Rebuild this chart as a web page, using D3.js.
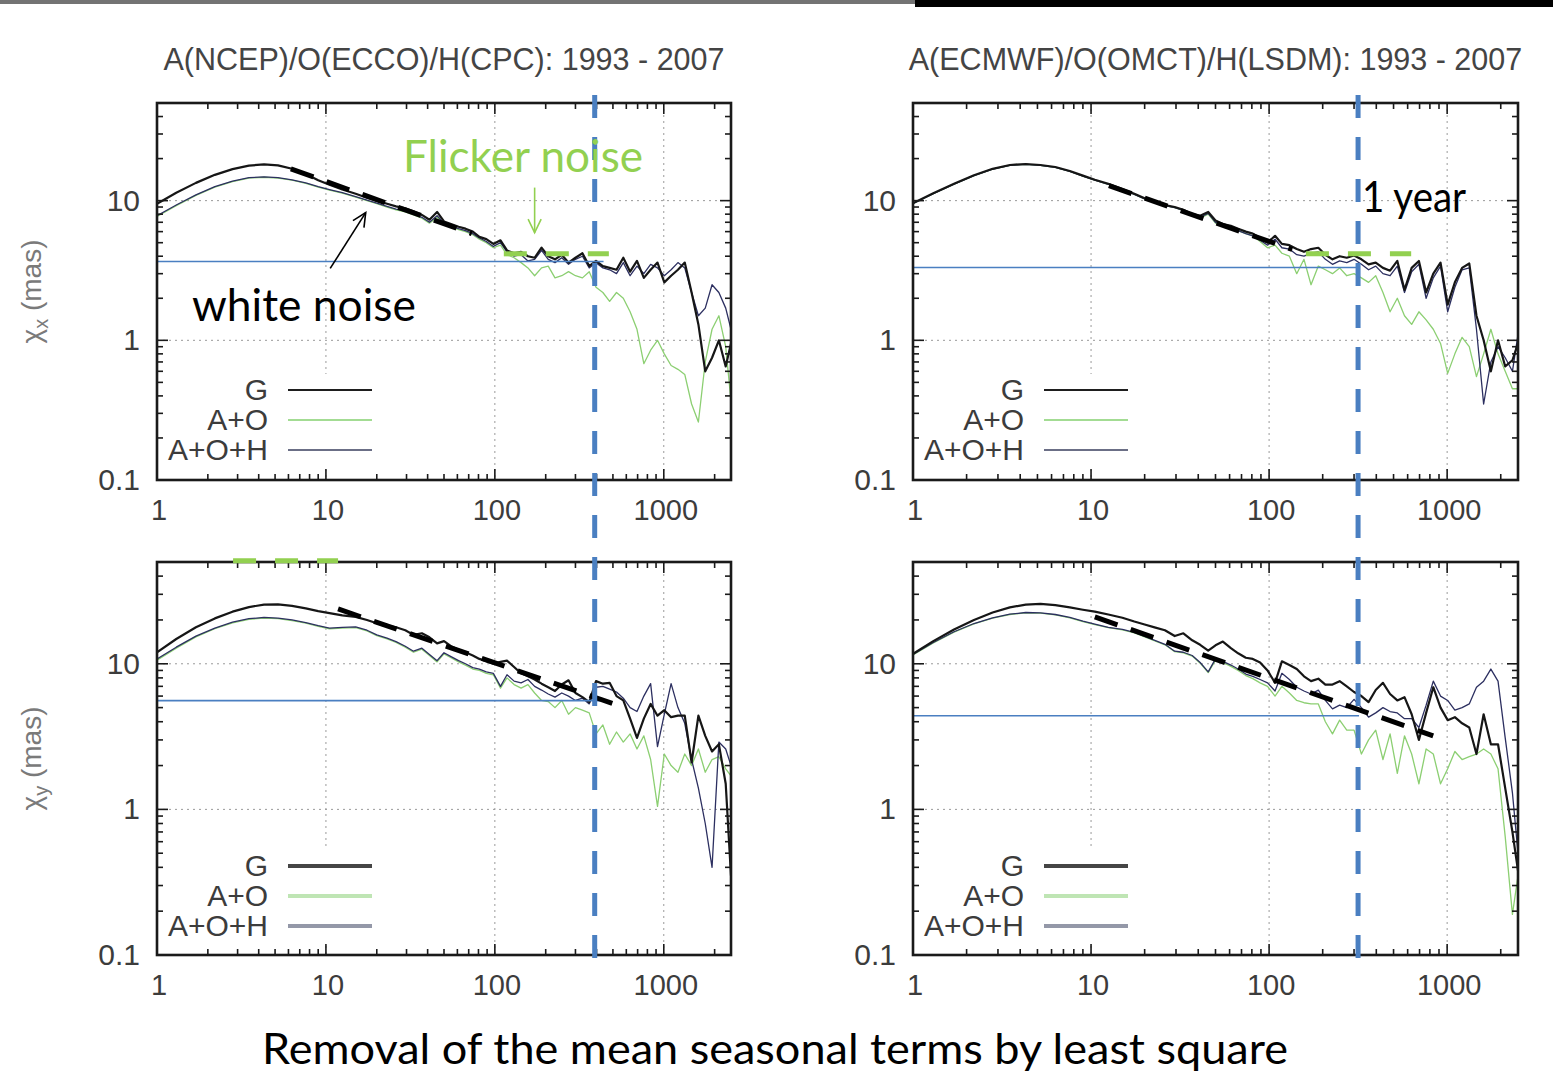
<!DOCTYPE html>
<html>
<head>
<meta charset="utf-8">
<script src="https://cdn.jsdelivr.net/npm/d3@7"></script>
<style>
  body { margin: 0; background: #fff; }
  svg { display: block; }
</style>
</head>
<body>
<svg id="chart" width="1553" height="1081"></svg>
<script>
// ---- Period axis (days), shared by every spectrum ----
const period = [1, 1.3, 1.7, 2.2, 2.8, 3.5, 4.3, 5.2, 6.3, 7.6,
  9, 10.5, 12.5, 15, 17.5, 20, 23, 26, 29.5, 33,
  37, 41, 45.5, 50, 55, 61, 67, 74, 81, 89,
  98, 108, 118, 130, 143, 157, 172, 189, 207, 227,
  249, 273, 300, 330, 362, 397, 436, 478, 525, 576,
  632, 694, 762, 836, 918, 1007, 1105, 1213, 1331, 1461,
  1603, 1760, 1931, 2119, 2326, 2500];

// ---- chi_x, NCEP / ECCO / CPC ----
const ncepX_G = [9.5, 11.4, 13.4, 15.3, 16.8, 17.8, 18.2, 17.9, 16.9, 15.5,
  14.0, 13.0, 12.0, 11.2, 10.5, 10.0, 9.5, 9.1, 8.8, 8.4,
  7.9, 7.3, 8.3, 7.1, 6.8, 6.5, 6.3, 6.0, 5.5, 5.3,
  4.9, 5.2, 4.4, 4.2, 4.3, 4.0, 3.9, 4.6, 4.0, 3.8,
  4.1, 3.6, 3.9, 4.2, 3.4, 3.7, 3.4, 3.3, 3.2, 3.9,
  3.1, 3.7, 2.8, 3.2, 3.6, 2.6, 2.9, 3.2, 3.6, 2.2,
  1.3, 0.6, 0.75, 1.0, 0.65, 0.95];
const ncepX_AO = [7.7, 9.2, 10.9, 12.5, 13.7, 14.5, 14.7, 14.5, 14.0, 13.3,
  12.5, 11.9, 11.3, 10.6, 10.0, 9.5, 9.0, 8.6, 8.3, 7.9,
  7.5, 6.9, 7.6, 6.8, 6.5, 6.2, 6.0, 5.7, 5.3, 5.0,
  4.6, 4.8, 4.1, 3.9, 3.6, 3.3, 2.9, 3.3, 3.4, 2.8,
  2.9, 3.1, 2.9, 2.8, 3.1, 2.4, 2.2, 1.9, 2.2, 2.0,
  1.6, 1.2, 0.68, 0.85, 1.0, 0.8, 0.66, 0.62, 0.57, 0.35,
  0.26, 0.7, 1.2, 1.5, 0.9, 0.37];
const ncepX_AOH = [7.8, 9.3, 11.0, 12.6, 13.8, 14.6, 14.8, 14.6, 14.1, 13.4,
  12.6, 12.0, 11.4, 10.7, 10.1, 9.6, 9.1, 8.7, 8.4, 8.0,
  7.6, 7.0, 7.8, 6.9, 6.6, 6.3, 6.1, 5.8, 5.4, 5.1,
  4.7, 5.0, 4.3, 4.0, 4.1, 3.7, 3.8, 4.4, 3.8, 3.6,
  3.9, 3.5, 3.8, 4.0, 3.3, 3.6, 3.3, 3.2, 3.0, 3.6,
  2.9, 3.4, 3.0, 3.5, 3.3, 2.9, 3.2, 3.6, 3.3, 2.2,
  1.5, 1.7, 2.5, 2.2, 1.7, 1.2];

// ---- chi_x, ECMWF / OMCT / LSDM ----
const ecmwfX_G = [9.6, 11.3, 13.2, 15.2, 16.9, 18.0, 18.3, 18.0, 17.4, 16.3,
  15.1, 14.1, 13.2, 12.1, 11.2, 10.4, 9.8, 9.3, 9.0, 8.6,
  8.0, 7.8, 8.3, 7.2, 6.8, 6.6, 6.3, 6.0, 5.8, 5.4,
  5.0, 5.6, 4.9, 4.8, 4.5, 4.3, 4.5, 4.6, 4.1, 3.8,
  4.0, 3.9, 4.05, 3.8, 3.5, 3.6, 3.3, 3.15, 3.7, 2.3,
  3.3, 3.7, 2.2, 3.0, 3.6, 1.8, 2.6, 3.3, 3.55, 1.5,
  1.0, 0.6, 1.0, 0.65, 0.72, 0.95];
const ecmwfX_AO = [9.5, 11.2, 13.1, 15.1, 16.8, 17.9, 18.2, 17.9, 17.3, 16.2,
  15.0, 14.0, 13.1, 12.0, 11.1, 10.3, 9.7, 9.2, 8.9, 8.5,
  7.9, 7.5, 8.0, 6.9, 6.7, 6.4, 6.1, 5.8, 5.6, 5.1,
  4.6, 4.8, 4.2, 4.0, 3.0, 3.8, 2.5, 3.4, 3.2, 3.0,
  3.3, 2.9, 3.0, 2.8, 2.6, 2.9, 2.2, 1.6, 2.0, 1.5,
  1.3, 1.6, 1.4, 1.2, 0.95, 0.58, 0.8, 1.05, 0.9, 0.55,
  0.8, 1.2, 0.8, 0.6, 0.45, 0.45];
const ecmwfX_AOH = [9.5, 11.2, 13.1, 15.1, 16.8, 17.9, 18.2, 17.9, 17.3, 16.2,
  15.0, 14.0, 13.1, 12.0, 11.1, 10.3, 9.7, 9.2, 8.9, 8.5,
  7.9, 7.6, 8.1, 7.0, 6.7, 6.4, 6.1, 5.8, 5.6, 5.2,
  4.8, 5.3, 4.6, 4.5, 4.1, 4.0, 4.2, 4.3, 3.8, 3.5,
  3.7, 3.6, 3.8, 3.5, 3.2, 3.4, 3.0, 2.9, 3.4, 2.2,
  3.1, 3.5, 2.0, 2.8, 3.4, 1.6, 2.4, 3.2, 3.3, 1.2,
  0.35, 0.7, 0.9, 0.75, 0.6, 1.1];

// ---- chi_y, NCEP / ECCO / CPC ----
const ncepY_G = [12.0, 14.8, 17.8, 20.5, 22.8, 24.5, 25.5, 25.6, 25.0, 24.0,
  23.0, 22.3, 21.5, 21.0, 20.0, 19.0, 18.3, 17.8, 17.0, 15.8,
  16.2, 15.2, 13.8, 14.3, 13.2, 12.5, 12.0, 11.4, 10.8, 10.4,
  10.0, 10.3, 10.5, 9.5, 8.6, 8.2, 7.8, 7.3, 6.9, 6.5,
  7.2, 7.7, 6.3, 5.9, 5.45, 7.6, 7.3, 7.4, 6.0, 5.6,
  4.2, 3.1, 4.2, 5.3, 4.4, 4.8, 4.3, 4.4, 4.4, 2.1,
  4.4, 3.2, 2.5, 2.8, 1.5, 0.35];
const ncepY_AO = [10.6, 12.8, 15.3, 17.4, 19.1, 20.2, 20.6, 20.4, 19.8, 19.0,
  18.1, 17.4, 17.6, 17.7, 16.8, 15.6, 14.8, 14.0, 13.0, 12.0,
  12.6, 11.4, 10.3, 11.7, 11.0, 10.3, 9.8, 9.2, 9.0, 8.6,
  8.4, 6.8, 8.0, 7.2, 6.8, 7.2, 6.3, 5.6, 5.5, 5.0,
  5.6, 4.5, 5.0, 4.8, 4.6, 3.3, 3.8, 2.8, 3.4, 2.9,
  3.3, 2.6, 3.2, 2.2, 1.05, 2.4, 2.0, 1.8, 2.4, 2.0,
  2.6, 1.8, 2.2, 2.3, 1.9, 1.7];
const ncepY_AOH = [10.8, 13.0, 15.5, 17.6, 19.3, 20.4, 20.8, 20.6, 20.0, 19.2,
  18.3, 17.6, 17.8, 17.9, 17.0, 15.8, 15.0, 14.2, 13.2, 12.2,
  12.8, 11.6, 10.5, 11.9, 11.2, 10.5, 10.0, 9.4, 9.2, 8.8,
  8.6, 7.0, 8.4, 7.6, 7.4, 7.8, 7.0, 6.6, 6.2, 5.9,
  6.3, 6.0, 5.6, 5.8, 5.3, 6.9, 7.0, 6.7, 6.4, 5.8,
  5.0, 4.7, 6.0, 7.3, 2.7, 4.5, 7.3, 5.0, 3.9, 2.2,
  1.4, 0.8, 0.4, 2.9, 2.6, 2.0];

// ---- chi_y, ECMWF / OMCT / LSDM ----
const ecmwfY_G = [11.7, 14.3, 17.2, 20.0, 22.5, 24.4, 25.5, 25.8, 25.3, 24.4,
  23.5, 22.8, 21.8, 20.7, 19.5, 18.6, 17.7, 17.0, 15.5, 16.2,
  14.5, 13.5, 12.3, 13.4, 14.2, 12.8, 11.8, 11.0, 10.8, 10.2,
  9.0, 7.4, 10.4, 9.8, 9.2, 8.2, 7.6, 7.9, 7.2, 7.2,
  7.6, 7.0, 6.4, 6.0, 5.45, 6.6, 7.4, 6.2, 5.6, 5.9,
  4.5, 3.0, 4.6, 6.9, 5.0, 4.1, 4.3, 3.9, 3.65, 2.4,
  4.5, 2.8, 2.8, 1.4, 0.7, 0.38];
const ecmwfY_AO = [11.5, 13.9, 16.5, 18.8, 20.6, 21.8, 22.4, 22.3, 21.7, 20.7,
  19.5, 18.6, 17.7, 17.1, 16.3, 15.3, 14.3, 13.5, 12.1, 11.9,
  11.3, 10.1, 8.7, 10.6, 10.2, 9.6, 9.0, 8.3, 7.9, 7.4,
  7.0, 6.0, 7.0, 6.3, 5.6, 5.4, 5.3, 5.3, 4.0, 3.3,
  4.1, 3.5, 3.5, 2.4, 3.0, 3.5, 2.2, 3.3, 1.77, 3.2,
  2.4, 1.5, 2.6, 2.4, 1.5, 1.9, 2.5, 2.2, 2.3, 2.4,
  2.6, 2.4, 1.9, 0.65, 0.19, 0.35];
const ecmwfY_AOH = [11.6, 14.0, 16.6, 18.9, 20.7, 21.9, 22.5, 22.4, 21.8, 20.8,
  19.6, 18.7, 17.8, 17.2, 16.4, 15.4, 14.4, 13.6, 12.2, 12.0,
  11.4, 10.2, 8.8, 10.8, 10.4, 9.8, 9.2, 8.5, 8.2, 7.8,
  7.4, 6.5, 8.6, 7.8, 6.9, 6.5, 6.2, 6.6, 5.6, 4.9,
  5.2, 5.0, 5.7, 5.0, 4.3, 4.6, 5.0, 4.7, 4.6, 4.2,
  4.2, 3.65, 5.2, 7.6, 6.0, 5.6, 4.8, 5.0, 5.3, 6.9,
  7.6, 9.2, 7.6, 3.1, 1.3, 0.5];

// ---- Labels and reference levels ----
const seriesNames = ["G", "A+O", "A+O+H"];
const columnTitles = ["A(NCEP)/O(ECCO)/H(CPC): 1993 - 2007", "A(ECMWF)/O(OMCT)/H(LSDM): 1993 - 2007"];
const rowLabels = ["x", "y"];
const xTicks = [1, 10, 100, 1000];
const xTickLabels = ["1", "10", "100", "1000"];
const yTicks = [0.1, 1, 10];
const yTickLabels = ["0.1", "1", "10"];
const xDomain = [1, 2500];
const yDomain = [0.1, 50];

// white-noise plateau level and where it stops, per panel (TL, TR, BL, BR)
const whiteNoiseLevel = [3.67, 3.32, 5.58, 4.4];
const whiteNoiseEnd = [440, 320, 430, 320];
// annual period marker, per column
const annualMarker = [390, 316];
// power-law fits: [[period, amp], [period, amp]] per panel
const powerLawFit = [
  [[6.2, 16.9], [73, 5.8]],
  [[12.6, 12.8], [135, 4.47]],
  [[11.8, 23.8], [588, 5.0]],
  [[10.5, 21.0], [835, 3.2]]
];
// flicker-noise plateau segments: panel, from, to, level
const flickerPanel = [0, 1, 2];
const flickerFrom = [113, 161, 2.82];
const flickerTo = [473, 628, 11.8];
const flickerLevel = [4.16, 4.16, 51];

const caption = "Removal of the mean seasonal terms by least square";

// ---- Layout ----
const panels = [
  { left: 157, right: 731, top: 103, bottom: 480, data: [ncepX_G, ncepX_AO, ncepX_AOH], thick: false },
  { left: 913, right: 1518, top: 103, bottom: 480, data: [ecmwfX_G, ecmwfX_AO, ecmwfX_AOH], thick: false },
  { left: 157, right: 731, top: 562, bottom: 955, data: [ncepY_G, ncepY_AO, ncepY_AOH], thick: true },
  { left: 913, right: 1518, top: 562, bottom: 955, data: [ecmwfY_G, ecmwfY_AO, ecmwfY_AOH], thick: true }
];

const gnuFont = "'Liberation Sans', Arial, Helvetica, sans-serif";
const officeFont = "Lato, 'Open Sans', sans-serif";
const textGray = "#3c3c3c";
const markerBlue = "#4a7fc1";
const flickerGreen = "#92d050";

const seriesColor = ["#161616", "#8ccf72", "#2c2f60"];
const seriesWidth = [2.2, 1.3, 1.3];
const keyColorThin = ["#1e1e1e", "#a3dc93", "#3a3f5e"];
const keyWidthThin = [2.2, 2.2, 1.4];
const keyColorThick = ["#454545", "#bfe5b4", "#9498a8"];
const keyWidthThick = [4, 4, 4];

const svg = d3.select("#chart");
const defs = svg.append("defs");

panels.forEach((p, i) => {
  p.x = d3.scaleLog().domain(xDomain).range([p.left, p.right]);
  p.y = d3.scaleLog().domain(yDomain).range([p.bottom, p.top]);
  defs.append("clipPath").attr("id", "clip" + i)
    .append("rect").attr("x", p.left).attr("y", p.top)
    .attr("width", p.right - p.left).attr("height", p.bottom - p.top);
});

// header band
svg.append("rect").attr("x", 915).attr("y", 0).attr("width", 638).attr("height", 7).attr("fill", "#000");
svg.append("rect").attr("x", 0).attr("y", 0).attr("width", 915).attr("height", 4).attr("fill", "#000").attr("opacity", 0.55);

// column titles
columnTitles.forEach((t, c) => {
  const p = panels[c];
  svg.append("text")
    .attr("x", (p.left + p.right) / 2).attr("y", 70)
    .attr("text-anchor", "middle")
    .attr("font-family", gnuFont).attr("font-size", 30.5)
    .attr("fill", "#444").text(t);
});

// row labels (chi_x, chi_y)
rowLabels.forEach((sub, r) => {
  const p = panels[r * 2];
  const cy = (p.top + p.bottom) / 2;
  const t = svg.append("text")
    .attr("transform", `translate(41,${cy}) rotate(-90)`)
    .attr("text-anchor", "middle")
    .attr("font-family", gnuFont).attr("font-size", 28)
    .attr("fill", "#7a7a7a");
  t.append("tspan").text("χ");
  t.append("tspan").attr("font-size", 20).attr("dy", 7).text(sub);
  t.append("tspan").attr("dy", -7).text(" (mas)");
});

const line = (p) => d3.line()
  .x(d => p.x(d[0]))
  .y(d => p.y(d[1]));

panels.forEach((p, i) => {
  const g = svg.append("g");
  const x = p.x, y = p.y;

  // dotted grid
  xTicks.filter(v => v > xDomain[0]).forEach(v => {
    g.append("line").attr("x1", x(v)).attr("x2", x(v))
      .attr("y1", p.top).attr("y2", p.bottom)
      .attr("stroke", "#9a9a9a").attr("stroke-width", 1).attr("stroke-dasharray", "2,4");
  });
  yTicks.filter(v => v > yDomain[0]).forEach(v => {
    g.append("line").attr("x1", p.left).attr("x2", p.right)
      .attr("y1", y(v)).attr("y2", y(v))
      .attr("stroke", "#9a9a9a").attr("stroke-width", 1).attr("stroke-dasharray", "2,4");
  });

  // key box background
  g.append("rect")
    .attr("x", p.left + 6).attr("y", p.bottom - 106)
    .attr("width", 216).attr("height", 96)
    .attr("fill", "#fff");

  // spectra: A+O first, then A+O+H, G on top
  const plot = g.append("g").attr("clip-path", `url(#clip${i})`);
  [1, 2, 0].forEach(s => {
    const pts = period.map((t, k) => [t, p.data[s][k]]);
    plot.append("path").datum(pts)
      .attr("d", line(p))
      .attr("fill", "none")
      .attr("stroke", seriesColor[s])
      .attr("stroke-width", seriesWidth[s])
      .attr("stroke-linejoin", "round");
  });

  // white-noise plateau
  g.append("line")
    .attr("x1", x(xDomain[0])).attr("x2", x(whiteNoiseEnd[i]))
    .attr("y1", y(whiteNoiseLevel[i])).attr("y2", y(whiteNoiseLevel[i]))
    .attr("stroke", markerBlue).attr("stroke-width", 1.6);

  // power-law fit
  g.append("path").datum(powerLawFit[i])
    .attr("d", line(p))
    .attr("fill", "none").attr("stroke", "#000")
    .attr("stroke-width", 5).attr("stroke-dasharray", "24,14");

  // key
  const kc = p.thick ? keyColorThick : keyColorThin;
  const kw = p.thick ? keyWidthThick : keyWidthThin;
  seriesNames.forEach((name, s) => {
    const ry = p.bottom - 90 + s * 30 + (p.thick ? 1 : 0);
    g.append("text")
      .attr("x", p.left + 111).attr("y", ry + 10)
      .attr("text-anchor", "end")
      .attr("font-family", gnuFont).attr("font-size", 30)
      .attr("fill", textGray).text(name);
    g.append("line")
      .attr("x1", p.left + 131).attr("x2", p.left + 215)
      .attr("y1", ry).attr("y2", ry)
      .attr("stroke", kc[s]).attr("stroke-width", kw[s]);
  });

  // ticks on all four sides, pointing inward
  const minorX = [];
  [1, 10, 100, 1000].forEach(dec => {
    for (let m = 2; m <= 9; m++) if (dec * m < xDomain[1]) minorX.push(dec * m);
  });
  const minorY = [];
  [0.1, 1, 10].forEach(dec => {
    for (let m = 2; m <= 9; m++) if (dec * m < yDomain[1]) minorY.push(dec * m);
  });
  const tickStroke = "#1a1a1a";
  const addX = (v, len) => {
    g.append("line").attr("x1", x(v)).attr("x2", x(v))
      .attr("y1", p.bottom).attr("y2", p.bottom - len).attr("stroke", tickStroke).attr("stroke-width", 1.6);
    g.append("line").attr("x1", x(v)).attr("x2", x(v))
      .attr("y1", p.top).attr("y2", p.top + len).attr("stroke", tickStroke).attr("stroke-width", 1.6);
  };
  const addY = (v, len) => {
    g.append("line").attr("y1", y(v)).attr("y2", y(v))
      .attr("x1", p.left).attr("x2", p.left + len).attr("stroke", tickStroke).attr("stroke-width", 1.6);
    g.append("line").attr("y1", y(v)).attr("y2", y(v))
      .attr("x1", p.right).attr("x2", p.right - len).attr("stroke", tickStroke).attr("stroke-width", 1.6);
  };
  xTicks.forEach(v => addX(v, 11));
  minorX.forEach(v => addX(v, 6));
  yTicks.forEach(v => addY(v, 11));
  minorY.forEach(v => addY(v, 6));

  // frame
  g.append("rect")
    .attr("x", p.left).attr("y", p.top)
    .attr("width", p.right - p.left).attr("height", p.bottom - p.top)
    .attr("fill", "none").attr("stroke", "#1a1a1a").attr("stroke-width", 2.6);

  // tick labels
  xTicks.forEach((v, k) => {
    g.append("text").attr("x", x(v) + 2).attr("y", p.bottom + 40)
      .attr("text-anchor", "middle")
      .attr("font-family", gnuFont).attr("font-size", 29)
      .attr("fill", textGray).text(xTickLabels[k]);
  });
  yTicks.forEach((v, k) => {
    g.append("text").attr("x", p.left - 17).attr("y", y(v) + 10)
      .attr("text-anchor", "end")
      .attr("font-family", gnuFont).attr("font-size", 30)
      .attr("fill", textGray).text(yTickLabels[k]);
  });
});

// flicker-noise plateaus
flickerPanel.forEach((pi, k) => {
  const p = panels[pi];
  svg.append("line")
    .attr("x1", p.x(flickerFrom[k])).attr("x2", p.x(flickerTo[k]))
    .attr("y1", p.y(flickerLevel[k])).attr("y2", p.y(flickerLevel[k]))
    .attr("stroke", flickerGreen).attr("stroke-width", 5)
    .attr("stroke-dasharray", "23,19");
});

// annual markers spanning both rows of each column
annualMarker.forEach((per, c) => {
  const top = panels[c], bot = panels[c + 2];
  svg.append("line")
    .attr("x1", top.x(per)).attr("x2", top.x(per))
    .attr("y1", top.top - 8).attr("y2", bot.bottom + 3)
    .attr("stroke", markerBlue).attr("stroke-width", 5)
    .attr("stroke-dasharray", "23,19");
});

// annotations
function arrow(p, from, to, color, width) {
  const x1 = p.x(from[0]), y1 = p.y(from[1]), x2 = p.x(to[0]), y2 = p.y(to[1]);
  const ang = Math.atan2(y2 - y1, x2 - x1);
  const head = 15, spread = 0.45;
  svg.append("line").attr("x1", x1).attr("y1", y1).attr("x2", x2).attr("y2", y2)
    .attr("stroke", color).attr("stroke-width", width);
  svg.append("path")
    .attr("d", `M${x2 - head * Math.cos(ang - spread)},${y2 - head * Math.sin(ang - spread)}L${x2},${y2}L${x2 - head * Math.cos(ang + spread)},${y2 - head * Math.sin(ang + spread)}`)
    .attr("fill", "none").attr("stroke", color).attr("stroke-width", width);
}
const P0 = panels[0], P1 = panels[1];

svg.append("text")
  .attr("x", P0.x(28.6)).attr("y", P0.y(16.1))
  .attr("font-family", officeFont).attr("font-size", 45)
  .attr("fill", flickerGreen)
  .attr("textLength", 240).attr("lengthAdjust", "spacingAndGlyphs")
  .text("Flicker noise");
arrow(P0, [172, 12.4], [172, 5.9], flickerGreen, 1.6);

svg.append("text")
  .attr("x", P0.x(1.61)).attr("y", P0.y(1.37))
  .attr("font-family", officeFont).attr("font-size", 45)
  .attr("fill", "#000")
  .attr("textLength", 224).attr("lengthAdjust", "spacingAndGlyphs")
  .text("white noise");
arrow(P0, [10.6, 3.27], [17.2, 8.2], "#000", 1.6);

svg.append("text")
  .attr("x", P1.x(333)).attr("y", P1.y(8.3))
  .attr("font-family", officeFont).attr("font-size", 42)
  .attr("fill", "#000")
  .attr("textLength", 104).attr("lengthAdjust", "spacingAndGlyphs")
  .text("1 year");

// caption
svg.append("text")
  .attr("x", 775).attr("y", 1064)
  .attr("text-anchor", "middle")
  .attr("font-family", officeFont).attr("font-size", 42)
  .attr("fill", "#000")
  .attr("textLength", 1026).attr("lengthAdjust", "spacingAndGlyphs")
  .text(caption);
</script>
</body>
</html>
